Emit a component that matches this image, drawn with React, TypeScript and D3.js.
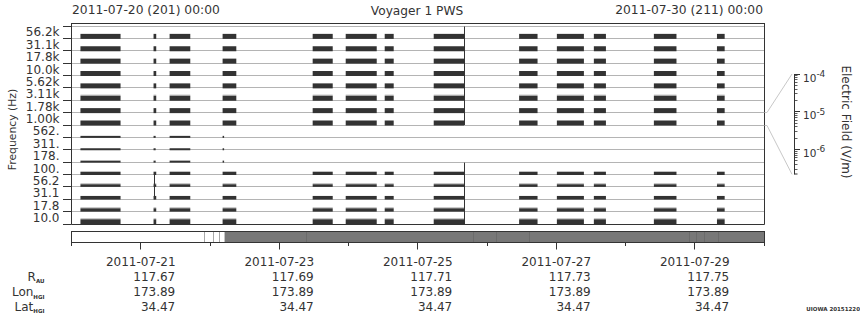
import React from "react";
import * as d3 from "d3";

// ---------- data ----------
const channelLabels = ["56.2k", "31.1k", "17.8k", "10.0k", "5.62k", "3.11k", "1.78k", "1.00k", "562.", "311.", "178.", "100.", "56.2", "31.1", "17.8", "10.0"];

// observation intervals (UT) with data in the spectrum-analyser channels
const observationBlocks: [string, string][] = [
  ["2011-07-20T03:06", "2011-07-20T17:00"],
  ["2011-07-21T04:26", "2011-07-21T05:22"],
  ["2011-07-21T10:00", "2011-07-21T17:10"],
  ["2011-07-22T04:22", "2011-07-22T09:07"],
  ["2011-07-23T11:35", "2011-07-23T18:32"],
  ["2011-07-23T23:02", "2011-07-24T09:47"],
  ["2011-07-24T12:33", "2011-07-24T15:40"],
  ["2011-07-25T05:32", "2011-07-25T16:03"],
  ["2011-07-26T11:08", "2011-07-26T17:31"],
  ["2011-07-27T00:13", "2011-07-27T09:35"],
  ["2011-07-27T13:02", "2011-07-27T17:13"],
  ["2011-07-28T09:50", "2011-07-28T17:40"],
  ["2011-07-29T07:42", "2011-07-29T10:22"],
];

// channels 562 - 178 Hz only have data in these intervals
const midBandChannels = ["562.", "311.", "178."];
const midBandBlocks: [string, string][] = [
  ["2011-07-20T03:06", "2011-07-20T17:00"],
  ["2011-07-21T04:26", "2011-07-21T05:10"],
  ["2011-07-21T10:00", "2011-07-21T17:10"],
  ["2011-07-22T04:22", "2011-07-22T04:40"],
];

// impulsive events spanning several channels
const burstLines = [
  { time: "2011-07-25T16:03", from: "56.2k", to: "1.00k" },
  { time: "2011-07-25T16:03", from: "100.", to: "10.0" },
  { time: "2011-07-21T04:40", from: "56.2", to: "31.1" },
];

// coverage bar
const coverageWhiteEnd = "2011-07-22T05:03";
const coverageWhiteMarks = ["2011-07-21T22:08", "2011-07-22T01:21", "2011-07-22T03:20"];
const coverageGrayMarks = ["2011-07-23T09:24", "2011-07-25T19:11", "2011-07-26T03:18", "2011-07-26T14:50", "2011-07-28T22:06", "2011-07-29T00:39", "2011-07-29T03:17", "2011-07-29T08:10"];

// ephemeris
const ephemDates = ["2011-07-21", "2011-07-23", "2011-07-25", "2011-07-27", "2011-07-29"];
const rAU = ["117.67", "117.69", "117.71", "117.73", "117.75"];
const lonHGI = ["173.89", "173.89", "173.89", "173.89", "173.89"];
const latHGI = ["34.47", "34.47", "34.47", "34.47", "34.47"];

// colour bar
const colorDomain = [Math.pow(10, -6.66), 1e-4];
const colorMajorTicks = [1e-4, 1e-5, 1e-6];
const colorTickExps = ["-4", "-5", "-6"];

const startLabel = "2011-07-20 (201) 00:00";
const endLabel = "2011-07-30 (211) 00:00";
const title = "Voyager 1 PWS";
const stamp = "UIOWA 20151220";

// ---------- chart ----------
const FONT = "DejaVu Sans";
const INK = "#333";

export default function App() {
  const parse = d3.utcParse("%Y-%m-%dT%H:%M");
  const parseDay = d3.utcParse("%Y-%m-%d");
  const t0 = Date.UTC(2011, 6, 20);
  const t1 = Date.UTC(2011, 6, 30);
  const x = d3.scaleUtc().domain([t0, t1]).range([71.5, 764]);
  const yBand = d3.scaleBand<string>().domain(channelLabels).range([26, 224]).padding(0);
  const bw = yBand.bandwidth();
  const bottomOf = (c: string) => (yBand(c) as number) + bw;
  const crisp = (v: number) => Math.floor(v) + 0.5;

  const cb = d3.scaleLog().domain(colorDomain).range([174.3, 74]);

  const barShape = (k: number): [number, number] => {
    if (k <= 7) return [-4.5, 0.5];
    if (k <= 10) return [-1.5, 0.5];
    if (k === 11) return [-2.8, 0.5];
    if (k === 12) return [-2.6, 0];
    if (k === 13) return [-3.3, 0.3];
    if (k === 14) return [-3.3, 0];
    return [-4.7, 0];
  };
  const speckled = new Set(["3.11k", "56.2", "17.8", "10.0"]);

  const bars: JSX.Element[] = [];
  channelLabels.forEach((c, k) => {
    const blocks = midBandChannels.includes(c) ? midBandBlocks : observationBlocks;
    const b = bottomOf(c);
    const [a, e] = barShape(k);
    blocks.forEach(([s, f], i) => {
      const x0 = x(parse(s)!);
      const x1 = x(parse(f)!);
      const w = Math.max(1.5, x1 - x0);
      if (speckled.has(c)) {
        bars.push(<rect key={`s${k}-${i}`} x={x0} y={b + a - 1.2} width={w} height={1.2} fill="#c4c4c4" />);
      }
      bars.push(<rect key={`b${k}-${i}`} x={x0} y={b + a} width={w} height={e - a} fill={INK} />);
    });
  });

  const days = d3.utcDay.range(new Date(t0), new Date(t1 + 1));
  const gridYs = d3.range(channelLabels.length + 1).map((j) => crisp(26 + j * bw));

  const cbMinor: number[] = [];
  [-7, -6, -5].forEach((e) => {
    for (let m = 2; m <= 9; m++) {
      const v = m * Math.pow(10, e);
      if (v >= colorDomain[0] && v <= colorDomain[1]) cbMinor.push(v);
    }
  });

  const line7 = bottomOf("1.78k");
  const line8 = bottomOf("1.00k");

  return (
    <svg width={860} height={320} style={{ position: "absolute", left: 0, top: 0, background: "#fff" }} fontFamily={FONT}>
      <rect x={0} y={0} width={860} height={320} fill="#fff" />
      {/* titles */}
      <text x={72} y={13.5} fontSize={12.3} fill={INK}>{startLabel}</text>
      <text x={763} y={13.5} fontSize={12.3} fill={INK} textAnchor="end">{endLabel}</text>
      <text x={417} y={14.5} fontSize={12.2} fill={INK} textAnchor="middle">{title}</text>

      {/* gridlines */}
      {gridYs.slice(0, -1).map((gy, j) => (
        <line key={`g${j}`} x1={72} x2={764} y1={gy} y2={gy} stroke="#b4b4b4" strokeWidth={1} />
      ))}
      {/* bars */}
      {bars}
      {burstLines.map((bl, i) => {
        const xx = crisp(x(parse(bl.time)!));
        return (
          <line key={`bl${i}`} x1={xx} x2={xx} y1={yBand(bl.from)! + 0.5} y2={bottomOf(bl.to)} stroke={INK} strokeWidth={1} />
        );
      })}

      {/* frame */}
      <line x1={71.5} x2={764.5} y1={23.5} y2={23.5} stroke={INK} />
      <line x1={71.5} x2={71.5} y1={23} y2={224.5} stroke={INK} />
      <line x1={764.5} x2={764.5} y1={23} y2={224.5} stroke={INK} />
      <line x1={71.5} x2={764.5} y1={224.5} y2={224.5} stroke={INK} />
      {gridYs.map((gy, j) => (
        <line key={`yt${j}`} x1={63} x2={71.5} y1={gy} y2={gy} stroke={INK} />
      ))}
      {channelLabels.map((c) => (
        <text key={`yl${c}`} x={59.5} y={(yBand(c) as number) + bw / 2 + 4.2} fontSize={12} fill={INK} textAnchor="end">{c}</text>
      ))}
      <text transform="translate(15.5,129.5) rotate(-90)" fontSize={10.8} fill={INK} textAnchor="middle">Frequency (Hz)</text>

      {/* colour bar axis */}
      <polyline points={`764.5,${crisp(line7)} 767,${crisp(line7)} 792,74`} fill="none" stroke="#c8c8c8" />
      <polyline points={`764.5,${crisp(line8)} 767,${crisp(line8)} 792,174.3`} fill="none" stroke="#c8c8c8" />
      <line x1={794.5} x2={794.5} y1={74} y2={174.5} stroke={INK} />
      <line x1={794.5} x2={797.5} y1={174} y2={174} stroke={INK} />
      {colorMajorTicks.map((v) => (
        <line key={`cm${v}`} x1={794.5} x2={800} y1={crisp(cb(v))} y2={crisp(cb(v))} stroke={INK} />
      ))}
      {cbMinor.map((v, i) => (
        <line key={`cn${i}`} x1={794.5} x2={797.5} y1={crisp(cb(v))} y2={crisp(cb(v))} stroke={INK} strokeWidth={0.8} />
      ))}
      {colorMajorTicks.map((v, i) => (
        <text key={`ctl${v}`} x={803} y={cb(v) + 7.6} fontSize={10.5} fill={INK}>
          10<tspan dy={-4.8} fontSize={9}>{colorTickExps[i]}</tspan>
        </text>
      ))}
      <text transform="translate(842,122) rotate(90)" fontSize={12} fill={INK} textAnchor="middle">Electric Field (V/m)</text>

      {/* coverage bar */}
      <rect x={71.5} y={231.5} width={x(parse(coverageWhiteEnd)!) - 71.5} height={11} fill="#fff" />
      <rect x={x(parse(coverageWhiteEnd)!)} y={231.5} width={764.5 - x(parse(coverageWhiteEnd)!)} height={11} fill="#777" />
      {coverageWhiteMarks.map((t, i) => {
        const xx = crisp(x(parse(t)!));
        return <line key={`cw${i}`} x1={xx} x2={xx} y1={231.5} y2={242.5} stroke="#a8a8a8" />;
      })}
      {coverageGrayMarks.map((t, i) => {
        const xx = crisp(x(parse(t)!));
        return <line key={`cg${i}`} x1={xx} x2={xx} y1={231.5} y2={242.5} stroke="#6a6a6a" />;
      })}
      <rect x={71.5} y={231.5} width={693} height={11} fill="none" stroke={INK} />

      {/* time ticks */}
      {days.map((d) => {
        const xx = crisp(x(d));
        const major = ephemDates.includes(d3.utcFormat("%Y-%m-%d")(d));
        return <line key={`dt${+d}`} x1={xx} x2={xx} y1={242.5} y2={major ? 249.5 : 246} stroke={INK} />;
      })}
      {ephemDates.map((ds, i) => {
        const xx = x(parseDay(ds)!);
        return (
          <g key={`ep${ds}`}>
            <text x={xx} y={266} fontSize={12} fill={INK} textAnchor="middle">{ds}</text>
            <text x={xx + 34.5} y={280.7} fontSize={12} fill={INK} textAnchor="end">{rAU[i]}</text>
            <text x={xx + 34.5} y={296} fontSize={12} fill={INK} textAnchor="end">{lonHGI[i]}</text>
            <text x={xx + 34.5} y={310.7} fontSize={12} fill={INK} textAnchor="end">{latHGI[i]}</text>
          </g>
        );
      })}
      <text x={44.5} y={280.7} fontSize={12} fill={INK} textAnchor="end">
        R<tspan dy={2.6} fontSize={5.5} fontWeight="bold">AU</tspan>
      </text>
      <text x={44.5} y={296} fontSize={12} fill={INK} textAnchor="end">
        Lon<tspan dy={2.6} fontSize={5.5} fontWeight="bold">HGI</tspan>
      </text>
      <text x={44.5} y={310.7} fontSize={12} fill={INK} textAnchor="end">
        Lat<tspan dy={2.6} fontSize={5.5} fontWeight="bold">HGI</tspan>
      </text>

      <text x={860} y={311.3} fontSize={5.5} fontWeight="bold" fill={INK} textAnchor="end">{stamp}</text>
    </svg>
  );
}
